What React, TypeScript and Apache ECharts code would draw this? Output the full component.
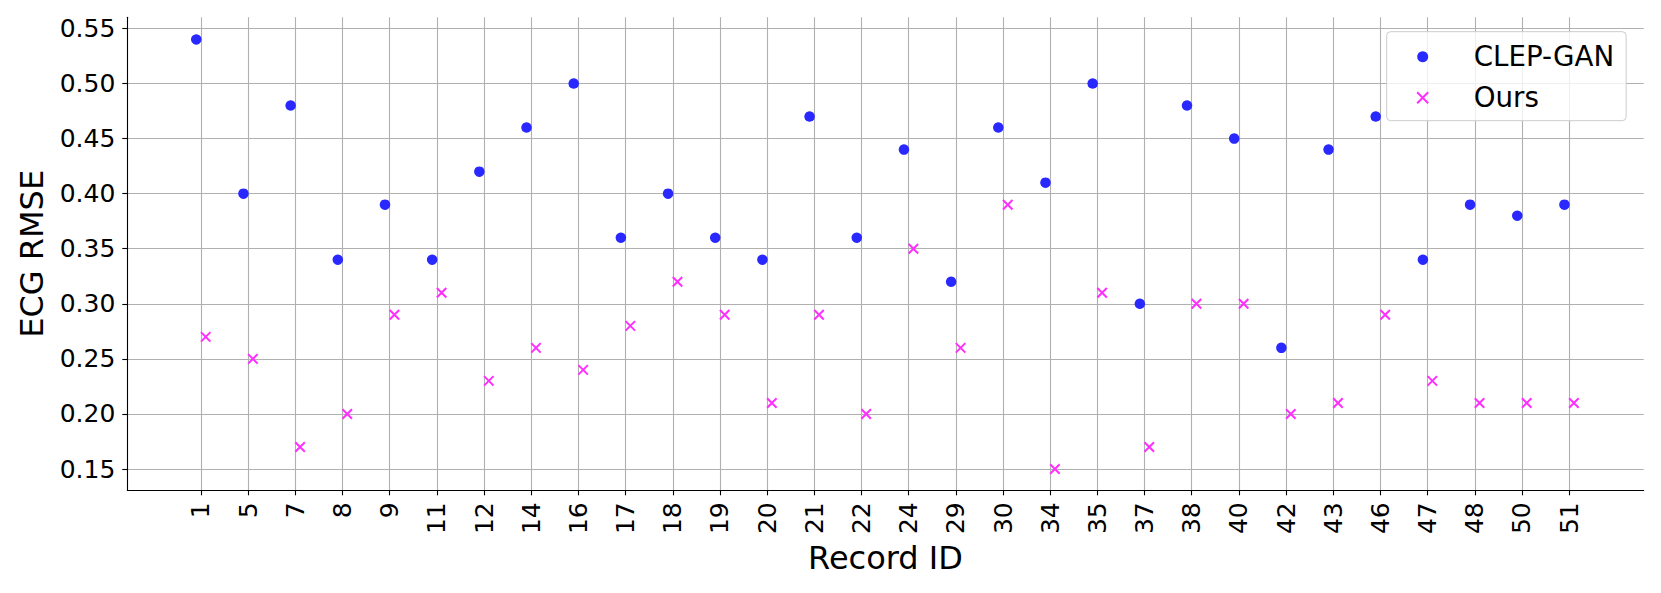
import React, { useEffect, useRef } from "react";
import * as echarts from "echarts";

const recordIds = ["1","5","7","8","9","11","12","14","16","17","18","19","20","21","22","24","29","30","34","35","37","38","40","42","43","46","47","48","50","51"];
const clepGan = [0.54,0.40,0.48,0.34,0.39,0.34,0.42,0.46,0.50,0.36,0.40,0.36,0.34,0.47,0.36,0.44,0.32,0.46,0.41,0.50,0.30,0.48,0.45,0.26,0.44,0.47,0.34,0.39,0.38,0.39];
const ours = [0.27,0.25,0.17,0.20,0.29,0.31,0.23,0.26,0.24,0.28,0.32,0.29,0.21,0.29,0.20,0.35,0.26,0.39,0.15,0.31,0.17,0.30,0.30,0.20,0.21,0.29,0.23,0.21,0.21,0.21];
const yTicks = [0.15,0.20,0.25,0.30,0.35,0.40,0.45,0.50,0.55];
const seriesNames = ["CLEP-GAN", "Ours"];
const offset = 0.1;

const FONT = "DejaVu Sans";
const X_MARK = "path://M0,0L10,10M10,0L0,10";
const BLUE = "#2828ff";
const MAGENTA = "#ff2eff";

export default function App() {
  const ref = useRef<HTMLDivElement>(null);
  useEffect(() => {
    if (!ref.current) return;
    const chart = echarts.init(ref.current, null, { renderer: "svg" });
    const idx = recordIds.map((_, i) => i);
    chart.setOption({
      animation: false,
      backgroundColor: "#ffffff",
      textStyle: { fontFamily: FONT, color: "#000" },
      grid: { left: 127.3, right: 17.3, top: 17.3, bottom: 102.7 },
      legend: {
        left: 1386.7,
        top: 31.7,
        orient: "vertical",
        backgroundColor: "rgba(255,255,255,0.8)",
        borderColor: "#cccccc",
        borderWidth: 1,
        borderRadius: 4,
        padding: [9, 12, 7, 28],
        itemWidth: 22,
        itemHeight: 11,
        itemGap: 9,
        textStyle: {
          fontFamily: FONT,
          fontSize: 27.7,
          lineHeight: 32,
          color: "#000",
          padding: [0, 0, 0, 35],
        },
        data: seriesNames,
      },
      xAxis: {
        type: "value",
        min: -1.562,
        max: 30.58,
        name: "Record ID",
        nameLocation: "middle",
        nameGap: 49,
        nameTextStyle: { fontFamily: FONT, fontSize: 32, color: "#000" },
        axisLine: { show: true, onZero: false, lineStyle: { color: "#000", width: 1.1 } },
        axisTick: { show: true, length: 5, lineStyle: { color: "#000", width: 1.1 }, customValues: idx },
        axisLabel: {
          customValues: idx,
          rotate: 90,
          margin: 12,
          fontFamily: FONT,
          fontSize: 25,
          color: "#000",
          formatter: (v: number) => recordIds[Math.round(v)] ?? "",
        },
        splitLine: { show: true, lineStyle: { color: "#b0b0b0", width: 1.1 } },
      },
      yAxis: {
        type: "value",
        min: 0.1307,
        max: 0.5601,
        name: "ECG RMSE",
        nameLocation: "middle",
        nameGap: 79,
        nameTextStyle: { fontFamily: FONT, fontSize: 32, color: "#000" },
        axisLine: { show: true, onZero: false, lineStyle: { color: "#000", width: 1.1 } },
        axisTick: { show: true, length: 5, lineStyle: { color: "#000", width: 1.1 }, customValues: yTicks },
        axisLabel: {
          customValues: yTicks,
          margin: 12,
          fontFamily: FONT,
          fontSize: 25,
          color: "#000",
          formatter: (v: number) => v.toFixed(2),
        },
        splitLine: { show: true, lineStyle: { color: "#b0b0b0", width: 1.1 } },
      },
      series: [
        {
          name: seriesNames[0],
          type: "scatter",
          symbol: "circle",
          symbolSize: 10.5,
          itemStyle: { color: BLUE, opacity: 1 },
          data: clepGan.map((v, i) => [i - offset, v]),
        },
        {
          name: seriesNames[1],
          type: "scatter",
          symbol: X_MARK,
          symbolSize: 9.5,
          itemStyle: { color: "none", borderColor: MAGENTA, borderWidth: 2, opacity: 1 },
          data: ours.map((v, i) => [i + offset, v]),
        },
      ],
    });
    return () => chart.dispose();
  }, []);
  return (
    <div
      ref={ref}
      style={{ position: "fixed", left: 0, top: 0, width: 1661, height: 593 }}
    />
  );
}
